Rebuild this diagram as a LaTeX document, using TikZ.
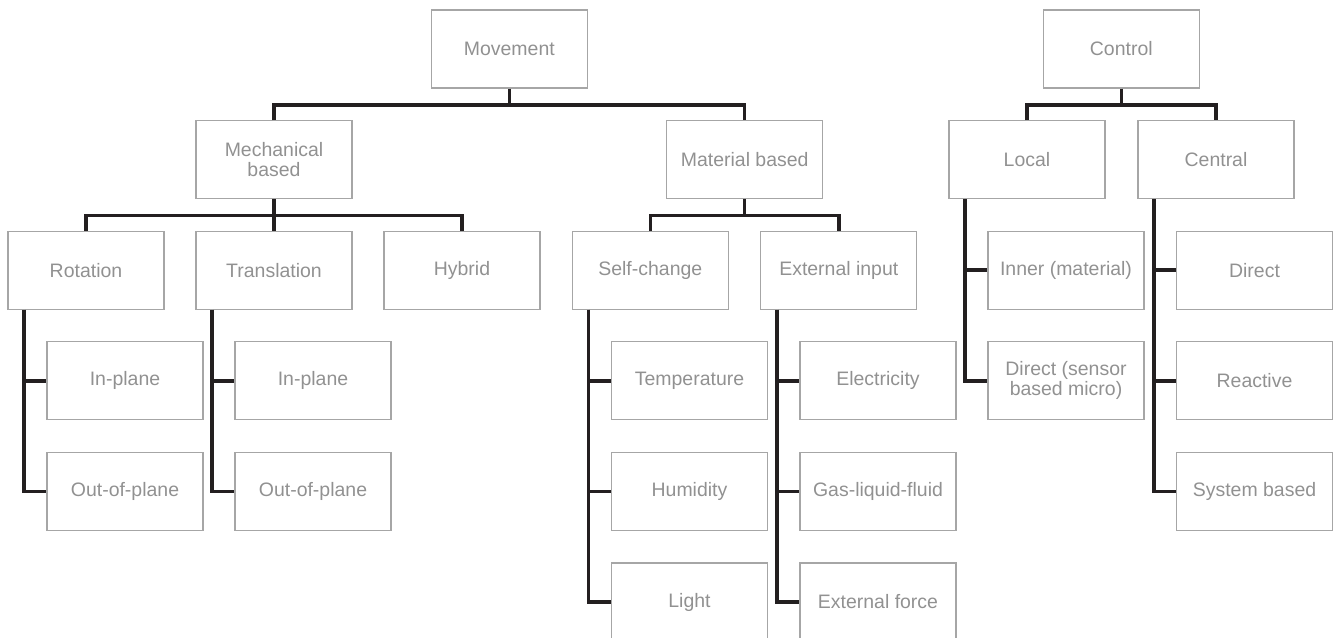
\documentclass[tikz,border=0pt]{standalone}
\usepackage{fontspec}
\setmainfont{Liberation Sans}
\usetikzlibrary{calc}
\definecolor{boxgray}{RGB}{166,166,166}
\definecolor{textgray}{RGB}{145,145,145}
\definecolor{linedark}{RGB}{35,31,32}
\begin{document}
\begin{tikzpicture}[x=0.75pt,y=-0.75pt,
  box/.style={draw=boxgray,line width=0.9pt,minimum width=117pt,minimum height=58.5pt,
    inner sep=0pt,align=center,text=textgray,font=\fontsize{14.6}{15.2}\selectfont},
  conn/.style={draw=linedark,line width=2.6pt,line join=miter}]
\useasboundingbox (0,0) rectangle (1334,637);
\clip (0,0) rectangle (1334,637);
% level 0
\node[box] (mov) at (509.3,49) {Movement};
\node[box] (ctl) at (1121.3,49) {Control};
% level 1
\node[box] (mech) at (274,159.6) {Mechanical\\based};
\node[box] (mat) at (744.7,159.6) {Material based};
\node[box] (loc) at (1027,159.6) {Local};
\node[box] (cen) at (1216,159.6) {Central};
% level 2
\node[box] (rot) at (86,270.2) {Rotation};
\node[box] (tra) at (274,270.2) {Translation};
\node[box] (hyb) at (462,270.2) {Hybrid};
\node[box] (sel) at (650.3,270.2) {Self-change};
\node[box] (ext) at (838.8,270.2) {External input};
\node[box] (inn) at (1066,270.2) {Inner (material)};
\node[box] (cdir) at (1254.5,270.2) {Direct};
% level 3+
\node[box] (rin) at (125,380.8) {In-plane};
\node[box] (rout) at (125,491.4) {Out-of-plane};
\node[box] (tin) at (313,380.8) {In-plane};
\node[box] (tout) at (313,491.4) {Out-of-plane};
\node[box] (temp) at (689.5,380.8) {Temperature};
\node[box] (hum) at (689.5,491.4) {Humidity};
\node[box] (lig) at (689.5,602) {Light};
\node[box] (ele) at (878,380.8) {Electricity};
\node[box] (gas) at (878,491.4) {Gas-liquid-fluid};
\node[box] (exf) at (878,602) {External force};
\node[box] (dsen) at (1066,380.8) {Direct (sensor\\based micro)};
\node[box] (rea) at (1254.5,380.8) {Reactive};
\node[box] (sys) at (1254.5,491.4) {System based};
% tree connectors
\draw[conn] (mov.south) -- ++(0,16.2) coordinate (movb);
\draw[conn] (mech.north) |- (movb) -| (mat.north);
\draw[conn] (ctl.south) -- ++(0,16.2) coordinate (ctlb);
\draw[conn] (loc.north) |- (ctlb) -| (cen.north);
\draw[conn] (mech.south) -- ++(0,16.2) coordinate (mechb);
\draw[conn] (rot.north) |- (mechb) -| (hyb.north);
\draw[conn] (mechb) -- (tra.north);
\draw[conn] (mat.south) -- ++(0,16.2) coordinate (matb);
\draw[conn] (sel.north) |- (matb) -| (ext.north);
% trunks
\draw[conn] ([xshift=-46.5pt]rot.south) |- (rin.west);
\draw[conn] ([xshift=-46.5pt]rot.south) |- (rout.west);
\draw[conn] ([xshift=-46.5pt]tra.south) |- (tin.west);
\draw[conn] ([xshift=-46.5pt]tra.south) |- (tout.west);
\draw[conn] ([xshift=-46.5pt]sel.south) |- (temp.west);
\draw[conn] ([xshift=-46.5pt]sel.south) |- (hum.west);
\draw[conn] ([xshift=-46.5pt]sel.south) |- (lig.west);
\draw[conn] ([xshift=-46.5pt]ext.south) |- (ele.west);
\draw[conn] ([xshift=-46.5pt]ext.south) |- (gas.west);
\draw[conn] ([xshift=-46.5pt]ext.south) |- (exf.west);
\draw[conn] ([xshift=-46.5pt]loc.south) |- (inn.west);
\draw[conn] ([xshift=-46.5pt]loc.south) |- (dsen.west);
\draw[conn] ([xshift=-46.5pt]cen.south) |- (cdir.west);
\draw[conn] ([xshift=-46.5pt]cen.south) |- (rea.west);
\draw[conn] ([xshift=-46.5pt]cen.south) |- (sys.west);
\end{tikzpicture}
\end{document}
